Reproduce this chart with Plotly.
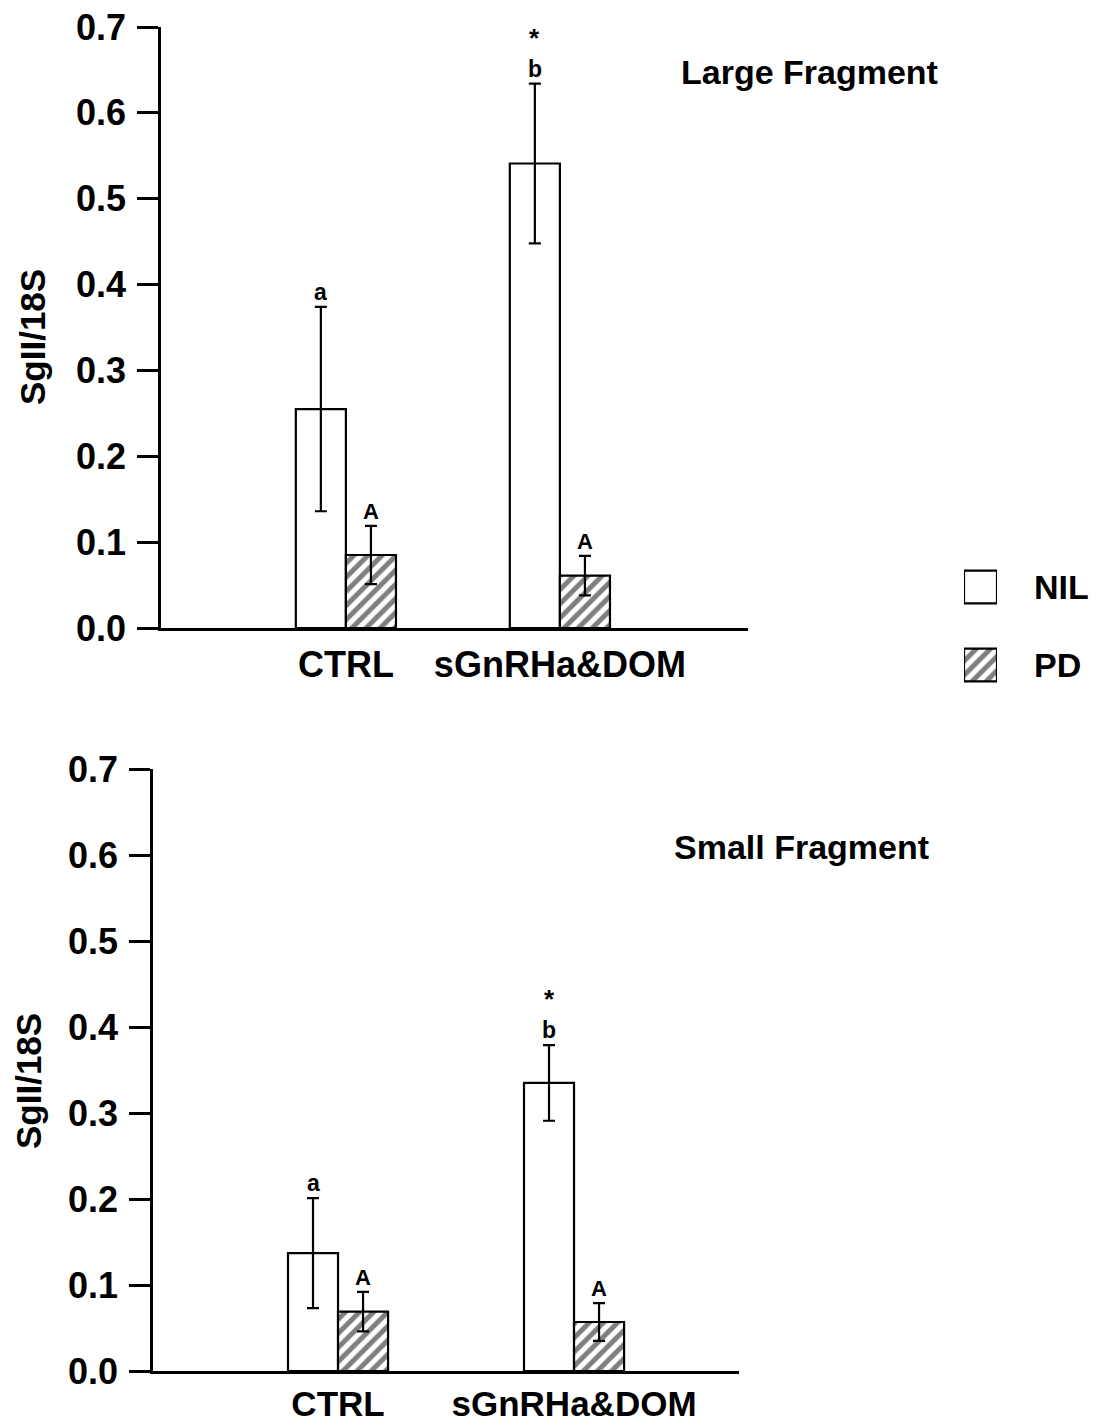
import plotly.graph_objects as go

# ---------------- data ----------------
categories = ["CTRL", "sGnRHa&DOM"]
series_names = ["NIL", "PD"]

large_nil = [0.255, 0.541]
large_nil_err = [0.119, 0.093]
large_pd = [0.085, 0.061]
large_pd_err = [0.034, 0.023]

small_nil = [0.137, 0.335]
small_nil_err = [0.064, 0.044]
small_pd = [0.069, 0.057]
small_pd_err = [0.023, 0.022]

nil_letters = ["a", "b"]
pd_letters = ["A", "A"]
nil_stars = ["", "*"]

panel_titles = ["Large Fragment", "Small Fragment"]
y_title = "SgII/18S"
y_ticks = [0.0, 0.1, 0.2, 0.3, 0.4, 0.5, 0.6, 0.7]

# ---------------- style ----------------
W, H = 1096, 1425
FONT = "Liberation Sans, Arial, sans-serif"
BLACK = "black"
hatch = dict(shape="/", size=10, solidity=0.5, fgcolor=BLACK, bgcolor="white", fillmode="overlay")
BIG = dict(size=36, family=FONT, color=BLACK, weight="bold")

def px_x(p):
    return p / W

def px_y(p):
    return 1 - p / H

panels = [
    dict(nil=large_nil, nil_err=large_nil_err, pd=large_pd, pd_err=large_pd_err,
         xdom=[px_x(161), px_x(748)], ydom=[px_y(628), px_y(27)],
         xrange=[-0.864, 1.879], bw=0.234, title_xy=(809, 72), ytitle_xy=(32, 337),
         xa="x", ya="y", standoff=3, xfont=36),
    dict(nil=small_nil, nil_err=small_nil_err, pd=small_pd, pd_err=small_pd_err,
         xdom=[px_x(153), px_x(739)], ydom=[px_y(1371), px_y(769)],
         xrange=[-0.784, 1.699], bw=0.212, title_xy=(801, 847), ytitle_xy=(28, 1081),
         xa="x2", ya="y2", standoff=0, xfont=35),
]

fig = go.Figure()
annotations = []
xpos = list(range(len(categories)))

for i, p in enumerate(panels):
    bw = p["bw"]
    fig.add_trace(go.Bar(
        x=xpos, y=p["nil"], name=series_names[0], width=bw, offset=-bw,
        marker=dict(color="white", line=dict(color=BLACK, width=2.2)),
        error_y=dict(type="data", array=p["nil_err"], visible=True, color=BLACK, thickness=2.2, width=6),
        xaxis=p["xa"], yaxis=p["ya"], showlegend=False))
    fig.add_trace(go.Bar(
        x=xpos, y=p["pd"], name=series_names[1], width=bw, offset=0,
        marker=dict(color="white", line=dict(color=BLACK, width=2.2), pattern=hatch),
        error_y=dict(type="data", array=p["pd_err"], visible=True, color=BLACK, thickness=2.2, width=6),
        xaxis=p["xa"], yaxis=p["ya"], showlegend=False))

    for j in xpos:
        top_n = p["nil"][j] + p["nil_err"][j]
        annotations.append(dict(x=j - bw / 2, y=top_n, xref=p["xa"], yref=p["ya"], text=nil_letters[j],
                                showarrow=False, yanchor="bottom", yshift=0,
                                font=dict(size=23, family=FONT, color=BLACK, weight="bold")))
        if nil_stars[j]:
            annotations.append(dict(x=j - bw / 2, y=top_n, xref=p["xa"], yref=p["ya"], text=nil_stars[j],
                                    showarrow=False, yanchor="bottom", yshift=29,
                                    font=dict(size=26, family=FONT, color=BLACK, weight="bold")))
        top_p = p["pd"][j] + p["pd_err"][j]
        annotations.append(dict(x=j + bw / 2, y=top_p, xref=p["xa"], yref=p["ya"], text=pd_letters[j],
                                showarrow=False, yanchor="bottom", yshift=0,
                                font=dict(size=22, family=FONT, color=BLACK, weight="bold")))

    annotations.append(dict(x=px_x(p["title_xy"][0]), y=px_y(p["title_xy"][1]), xref="paper", yref="paper",
                            text=panel_titles[i], showarrow=False, xanchor="center", yanchor="middle",
                            font=dict(size=34, family=FONT, color=BLACK, weight="bold")))
    annotations.append(dict(x=px_x(p["ytitle_xy"][0]), y=px_y(p["ytitle_xy"][1]), xref="paper", yref="paper",
                            text=y_title, showarrow=False, textangle=-90, xanchor="center", yanchor="middle",
                            font=dict(size=35, family=FONT, color=BLACK, weight="bold")))

    xkey = "xaxis" if i == 0 else "xaxis2"
    ykey = "yaxis" if i == 0 else "yaxis2"
    fig.update_layout(**{
        xkey: dict(domain=p["xdom"], range=p["xrange"], anchor=p["ya"], tickmode="array",
                   tickvals=xpos, ticktext=categories, ticks="", showgrid=False, zeroline=False,
                   showline=True, linecolor=BLACK, linewidth=2.5, automargin=False,
                   tickfont=dict(size=p["xfont"], family=FONT, color=BLACK, weight="bold"),
                   ticklabelstandoff=p["standoff"]),
        ykey: dict(domain=p["ydom"], range=[0, 0.7], anchor=p["xa"], tickmode="array",
                   tickvals=y_ticks, tickformat=".1f", ticks="outside", ticklen=21, tickwidth=2.5,
                   tickcolor=BLACK, showgrid=False, zeroline=False, showline=True, linecolor=BLACK,
                   linewidth=2.5, automargin=False, tickfont=BIG, ticklabelstandoff=4),
    })

# ---------------- legend (drawn as a tiny bar panel) ----------------
fig.add_trace(go.Bar(
    y=[series_names[0]], x=[1], orientation="h", width=0.42,
    marker=dict(color="white", line=dict(color=BLACK, width=2.2)),
    xaxis="x3", yaxis="y3", showlegend=False))
fig.add_trace(go.Bar(
    y=[series_names[1]], x=[1], orientation="h", width=0.42,
    marker=dict(color="white", line=dict(color=BLACK, width=2.2), pattern=hatch),
    xaxis="x3", yaxis="y3", showlegend=False))

fig.update_layout(
    xaxis3=dict(domain=[px_x(964), px_x(997)], range=[0, 1], visible=False, anchor="y3", automargin=False),
    yaxis3=dict(domain=[px_y(704), px_y(548)], type="category", categoryarray=series_names,
                range=[1.5, -0.5], side="right", anchor="x3", showgrid=False, zeroline=False,
                showline=False, ticks="", ticklabelstandoff=36, automargin=False,
                tickfont=dict(size=34, family=FONT, color=BLACK, weight="bold")),
)

fig.update_layout(
    width=W, height=H, margin=dict(l=0, r=0, t=0, b=0),
    paper_bgcolor="white", plot_bgcolor="white",
    barmode="overlay", showlegend=False,
    annotations=annotations,
    font=dict(family=FONT, color=BLACK),
)

fig.write_html("out.html")
